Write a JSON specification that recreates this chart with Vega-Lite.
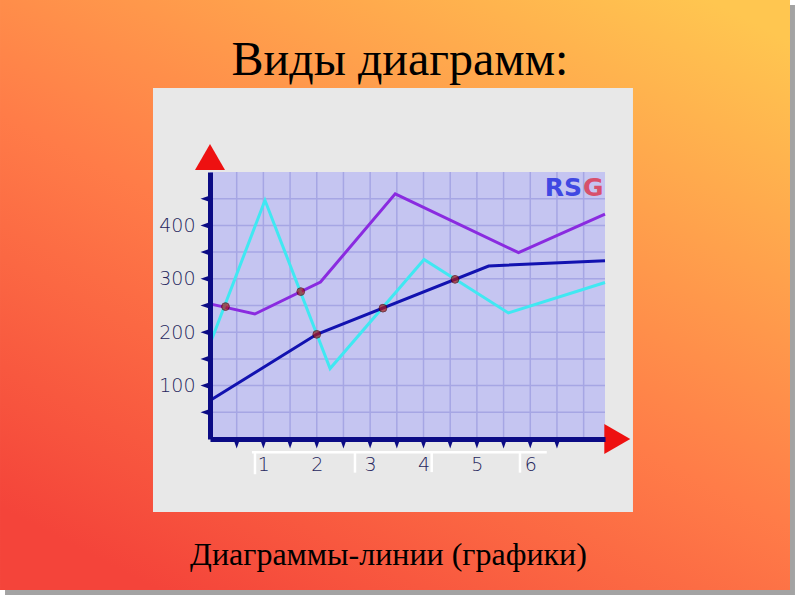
{
  "$schema": "https://vega.github.io/schema/vega-lite/v6.json",
  "width": 395,
  "height": 267,
  "autosize": "none",
  "padding": {"left": 210, "top": 172, "right": 195, "bottom": 161},
  "background": "white",
  "config": {"view": {"stroke": null}},
  "data": {"values": [{}]},
  "datasets": {
    "lines": [
      {"series": "purple", "x": 0, "y": 253},
      {"series": "purple", "x": 0.84, "y": 234},
      {"series": "purple", "x": 2.07, "y": 294},
      {"series": "purple", "x": 3.47, "y": 459},
      {"series": "purple", "x": 5.78, "y": 349},
      {"series": "purple", "x": 7.4, "y": 421},
      {"series": "cyan", "x": 0, "y": 178},
      {"series": "cyan", "x": 1.03, "y": 447},
      {"series": "cyan", "x": 2.25, "y": 132},
      {"series": "cyan", "x": 4.01, "y": 336},
      {"series": "cyan", "x": 5.59, "y": 236},
      {"series": "cyan", "x": 7.4, "y": 293},
      {"series": "blue", "x": 0, "y": 72},
      {"series": "blue", "x": 2.0, "y": 196},
      {"series": "blue", "x": 5.22, "y": 324},
      {"series": "blue", "x": 7.4, "y": 334}
    ],
    "crossings": [
      {"x": 0.29, "y": 248},
      {"x": 1.7, "y": 276},
      {"x": 2.0, "y": 196},
      {"x": 3.24, "y": 245},
      {"x": 4.59, "y": 299}
    ],
    "gridX": [
      {"x": 0.5}, {"x": 1}, {"x": 1.5}, {"x": 2}, {"x": 2.5}, {"x": 3}, {"x": 3.5},
      {"x": 4}, {"x": 4.5}, {"x": 5}, {"x": 5.5}, {"x": 6}, {"x": 6.5}, {"x": 7}
    ],
    "gridY": [
      {"y": 50}, {"y": 100}, {"y": 150}, {"y": 200}, {"y": 250},
      {"y": 300}, {"y": 350}, {"y": 400}, {"y": 450}
    ],
    "ticksX": [
      {"x": 0.5}, {"x": 1}, {"x": 1.5}, {"x": 2}, {"x": 2.5}, {"x": 3}, {"x": 3.5},
      {"x": 4}, {"x": 4.5}, {"x": 5}, {"x": 5.5}, {"x": 6}, {"x": 6.5}
    ],
    "marksWhite": [
      {"x": 0.786, "x2": 6.309, "y": -25, "y2": -25},
      {"x": 0.843, "x2": 0.843, "y": -25, "y2": -66},
      {"x": 2.716, "x2": 2.716, "y": -25, "y2": -63},
      {"x": 4.153, "x2": 4.153, "y": -25, "y2": -62},
      {"x": 5.807, "x2": 5.807, "y": -25, "y2": -63}
    ]
  },
  "layer": [
    {
      "mark": {"type": "rect", "fill": "#8c8c8c", "opacity": 0.8},
      "encoding": {
        "x": {
          "datum": -3.84, "type": "quantitative", "title": null,
          "scale": {"domain": [0, 7.4], "nice": false, "zero": false},
          "axis": {
            "zindex": 1, "values": [1, 2, 3, 4, 5, 6], "ticks": false, "grid": false,
            "domainColor": "#0b0b85", "domainWidth": 5,
            "labelFont": "DejaVu Sans", "labelFontSize": 19, "labelFontWeight": 200, "labelColor": "#26265e",
            "labelPadding": 16
          }
        },
        "x2": {"datum": 10.959},
        "y": {
          "datum": 812.7, "type": "quantitative", "title": null,
          "scale": {"domain": [0, 500], "nice": false},
          "axis": {
            "zindex": 1, "values": [100, 200, 300, 400], "ticks": false, "grid": false,
            "domainColor": "#0b0b85", "domainWidth": 5,
            "labelFont": "DejaVu Sans", "labelFontSize": 19, "labelFontWeight": 200, "labelColor": "#26265e",
            "labelPadding": 15
          }
        },
        "y2": {"datum": -292.1}
      }
    },
    {
      "mark": {
        "type": "rect",
        "fill": {
          "gradient": "linear",
          "x1": 0.2, "y1": 1, "x2": 0.9, "y2": 0,
          "stops": [
            {"offset": 0, "color": "#f4443a"},
            {"offset": 0.45, "color": "#ff7c48"},
            {"offset": 1, "color": "#ffc650"}
          ]
        }
      },
      "encoding": {
        "x": {"datum": -3.934, "type": "quantitative", "title": null},
        "x2": {"datum": 10.866},
        "y": {"datum": 822.1, "type": "quantitative", "title": null},
        "y2": {"datum": -282.8}
      }
    },
    {
      "mark": {"type": "rect", "fill": "#e8e8e8"},
      "encoding": {
        "x": {"datum": -1.068, "type": "quantitative", "title": null},
        "x2": {"datum": 7.924},
        "y": {"datum": 657.3, "type": "quantitative", "title": null},
        "y2": {"datum": -136.7}
      }
    },
    {
      "mark": {"type": "rect", "fill": "#c5c5f1"},
      "encoding": {
        "x": {"datum": 0, "type": "quantitative", "title": null},
        "x2": {"datum": 7.4},
        "y": {"datum": 0, "type": "quantitative", "title": null},
        "y2": {"datum": 500}
      }
    },
    {
      "data": {"name": "gridX"},
      "mark": {"type": "rule", "color": "#a6a6e4", "strokeWidth": 1.5},
      "encoding": {
        "x": {"field": "x", "type": "quantitative", "title": null},
        "y": {"datum": 0, "type": "quantitative", "title": null},
        "y2": {"datum": 500}
      }
    },
    {
      "data": {"name": "gridY"},
      "mark": {"type": "rule", "color": "#a6a6e4", "strokeWidth": 1.5},
      "encoding": {
        "y": {"field": "y", "type": "quantitative", "title": null},
        "x": {"datum": 0, "type": "quantitative", "title": null},
        "x2": {"datum": 7.4}
      }
    },
    {
      "data": {"name": "marksWhite"},
      "mark": {"type": "rule", "color": "#ffffff", "strokeWidth": 2.5},
      "encoding": {
        "x": {"field": "x", "type": "quantitative", "title": null},
        "x2": {"field": "x2"},
        "y": {"field": "y", "type": "quantitative", "title": null},
        "y2": {"field": "y2"}
      }
    },
    {
      "data": {"name": "lines"},
      "mark": {"type": "line", "strokeWidth": 3},
      "encoding": {
        "x": {"field": "x", "type": "quantitative", "title": null},
        "y": {"field": "y", "type": "quantitative", "title": null},
        "color": {
          "field": "series", "type": "nominal",
          "scale": {"domain": ["purple", "cyan", "blue"], "range": ["#8a2be0", "#40e8f2", "#1212b0"]},
          "legend": null
        },
        "order": {"field": "x", "type": "quantitative"}
      }
    },
    {
      "data": {"name": "crossings"},
      "mark": {"type": "point", "shape": "circle", "filled": true, "size": 60, "color": "#ae1818", "stroke": "#4a0606", "strokeWidth": 1},
      "encoding": {
        "x": {"field": "x", "type": "quantitative", "title": null},
        "y": {"field": "y", "type": "quantitative", "title": null}
      }
    },
    {
      "data": {"name": "ticksX"},
      "mark": {"type": "point", "shape": "M-0.35,0L0,1L0.35,0Z", "filled": true, "size": 361, "color": "#0b0b85", "opacity": 1},
      "encoding": {
        "x": {"field": "x", "type": "quantitative", "title": null},
        "y": {"datum": 0, "type": "quantitative", "title": null}
      }
    },
    {
      "data": {"name": "gridY"},
      "mark": {"type": "point", "shape": "M0,-0.35L-1,0L0,0.35Z", "filled": true, "size": 361, "color": "#0b0b85", "opacity": 1},
      "encoding": {
        "x": {"datum": 0, "type": "quantitative", "title": null},
        "y": {"field": "y", "type": "quantitative", "title": null}
      }
    },
    {
      "mark": {"type": "point", "shape": "triangle-up", "filled": true, "size": 900, "color": "#ee1111", "opacity": 1},
      "encoding": {
        "x": {"datum": 0, "type": "quantitative", "title": null},
        "y": {"datum": 528, "type": "quantitative", "title": null}
      }
    },
    {
      "mark": {"type": "point", "shape": "triangle-right", "filled": true, "size": 900, "color": "#ee1111", "opacity": 1},
      "encoding": {
        "x": {"datum": 7.63, "type": "quantitative", "title": null},
        "y": {"datum": 0, "type": "quantitative", "title": null}
      }
    },
    {
      "mark": {"type": "text", "text": "RS", "align": "right", "baseline": "alphabetic", "font": "DejaVu Sans", "fontWeight": "bold", "fontSize": 25, "color": "#4048e2"},
      "encoding": {
        "x": {"datum": 6.969, "type": "quantitative", "title": null},
        "y": {"datum": 455, "type": "quantitative", "title": null}
      }
    },
    {
      "mark": {"type": "text", "text": "G", "align": "left", "baseline": "alphabetic", "font": "DejaVu Sans", "fontWeight": "bold", "fontSize": 25, "color": "#d8506c"},
      "encoding": {
        "x": {"datum": 6.988, "type": "quantitative", "title": null},
        "y": {"datum": 455, "type": "quantitative", "title": null}
      }
    },
    {
      "mark": {"type": "text", "text": "Виды диаграмм:", "align": "center", "baseline": "alphabetic", "font": "Liberation Serif", "fontSize": 48, "color": "#000000"},
      "encoding": {
        "x": {"datum": 3.559, "type": "quantitative", "title": null},
        "y": {"datum": 681.6, "type": "quantitative", "title": null}
      }
    },
    {
      "mark": {"type": "text", "text": "Диаграммы-линии (графики)", "align": "center", "baseline": "alphabetic", "font": "Liberation Serif", "fontSize": 32, "color": "#000000"},
      "encoding": {
        "x": {"datum": 3.344, "type": "quantitative", "title": null},
        "y": {"datum": -236, "type": "quantitative", "title": null}
      }
    }
  ]
}
